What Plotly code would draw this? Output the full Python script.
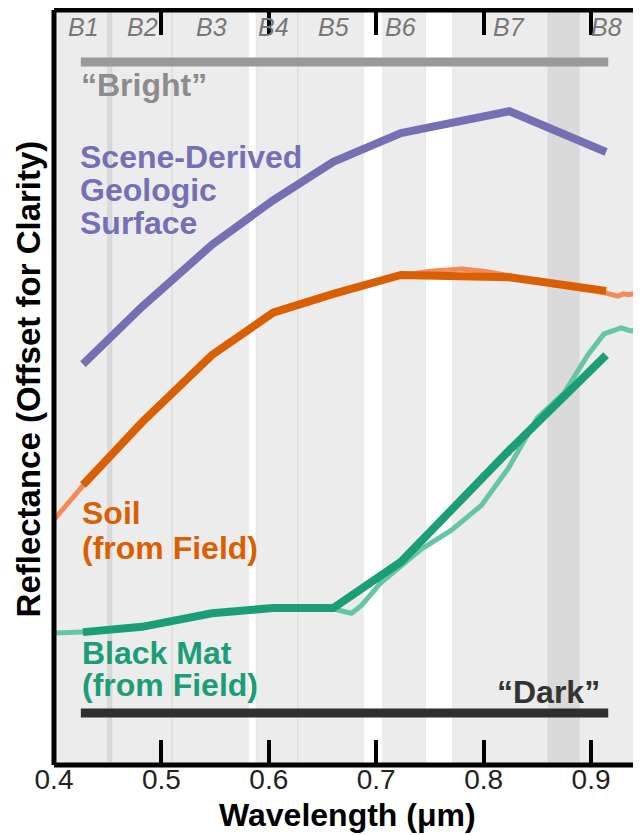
import plotly.graph_objects as go

# ---------------- data ----------------
band_names = ["B1", "B2", "B3", "B4", "B5", "B6", "B7", "B8"]
band_centers = [0.427, 0.482, 0.547, 0.604, 0.660, 0.723, 0.824, 0.914]
band_start = [0.400, 0.450, 0.510, 0.588, 0.627, 0.706, 0.771, 0.860]
band_end = [0.454, 0.510, 0.581, 0.627, 0.688, 0.746, 0.889, 1.040]

scene_refl = [0.531, 0.607, 0.689, 0.748, 0.799, 0.837, 0.866, 0.812]
soil_refl = [0.371, 0.454, 0.543, 0.599, 0.624, 0.649, 0.646, 0.628]
mat_refl = [0.176, 0.183, 0.201, 0.208, 0.208, 0.269, 0.417, 0.543]

soil_field_wl = [0.400, 0.427, 0.482, 0.547, 0.604, 0.660, 0.700, 0.723, 0.750,
                 0.780, 0.800, 0.824, 0.860, 0.890, 0.914, 0.925, 0.930, 0.935,
                 0.940, 0.9465]
soil_field_refl = [0.325, 0.370, 0.456, 0.544, 0.601, 0.625, 0.640, 0.648, 0.654,
                   0.657, 0.654, 0.648, 0.637, 0.631, 0.625, 0.621, 0.624, 0.623,
                   0.625, 0.626]

mat_field_wl = [0.400, 0.427, 0.482, 0.547, 0.604, 0.660, 0.668, 0.677, 0.686,
                0.704, 0.742, 0.770, 0.798, 0.823, 0.850, 0.875, 0.897, 0.912,
                0.928, 0.937, 0.9465]
mat_field_refl = [0.175, 0.176, 0.183, 0.201, 0.208, 0.207, 0.204, 0.201, 0.211,
                  0.241, 0.286, 0.311, 0.344, 0.393, 0.460, 0.493, 0.543, 0.571,
                  0.579, 0.575, 0.577]

bar_span = [0.425, 0.916]
bright_level = 0.931
dark_level = 0.069

x_ticks = [0.4, 0.5, 0.6, 0.7, 0.8, 0.9]
x_tick_labels = ["0.4", "0.5", "0.6", "0.7", "0.8", "0.9"]

# ---------------- styles ----------------
PURPLE = "#7570b3"
ORANGE = "#d95f02"
GREEN = "#1b9e77"
ORANGE_LIGHT = "#f38a58"
GREEN_LIGHT = "#66c6a4"
FONT = "Liberation Sans, Arial, Helvetica, sans-serif"

fig = go.Figure()

# spectral band shading
for x0, x1 in zip(band_start, band_end):
    fig.add_shape(type="rect", xref="x", yref="paper", x0=x0, x1=x1, y0=0, y1=1,
                  fillcolor="rgba(0,0,0,0.075)",
                  line=dict(color="rgba(0,0,0,0.05)", width=1), layer="below")

# field spectra (light)
fig.add_trace(go.Scatter(x=soil_field_wl, y=soil_field_refl, mode="lines",
                         line=dict(color=ORANGE_LIGHT, width=5), hoverinfo="skip"))
fig.add_trace(go.Scatter(x=mat_field_wl, y=mat_field_refl, mode="lines",
                         line=dict(color=GREEN_LIGHT, width=5), hoverinfo="skip"))

# resampled spectra (bold)
fig.add_trace(go.Scatter(x=band_centers, y=soil_refl, mode="lines",
                         line=dict(color=ORANGE, width=8), hoverinfo="skip"))
fig.add_trace(go.Scatter(x=band_centers, y=mat_refl, mode="lines",
                         line=dict(color=GREEN, width=8), hoverinfo="skip"))
fig.add_trace(go.Scatter(x=band_centers, y=scene_refl, mode="lines",
                         line=dict(color=PURPLE, width=8), hoverinfo="skip"))

# bright / dark bars
fig.add_trace(go.Scatter(x=bar_span, y=[bright_level] * 2, mode="lines",
                         line=dict(color="#999999", width=9), hoverinfo="skip"))
fig.add_trace(go.Scatter(x=bar_span, y=[dark_level] * 2, mode="lines",
                         line=dict(color="#2f2f2f", width=9), hoverinfo="skip"))

# frame lines
for (x0, y0, x1, y1) in [(0, 0, 0, 1), (0, 0, 1.02, 0), (0, 1, 1.02, 1)]:
    fig.add_shape(type="line", xref="paper", yref="paper", x0=x0, y0=y0, x1=x1, y1=y1,
                  line=dict(color="black", width=5), layer="above")

# band labels
for name, c in zip(band_names, band_centers):
    fig.add_annotation(x=c, y=0.977, xref="x", yref="y", text="<i>" + name + "</i>",
                       showarrow=False, xanchor="center", yanchor="middle",
                       font=dict(family=FONT, size=25, color="#777777"))

def label(text, x, y, color, size=32, xanchor="left"):
    fig.add_annotation(x=x, y=y, xref="x", yref="y", text="<b>" + text + "</b>",
                       showarrow=False, xanchor=xanchor, yanchor="middle",
                       font=dict(family=FONT, size=size, color=color))

label("\u201cBright\u201d", 0.4233, 0.901, "#8c8c8c")
label("\u201cDark\u201d", 0.9105, 0.097, "#333333", xanchor="right")
label("Scene-Derived", 0.4224, 0.805, PURPLE)
label("Geologic", 0.4224, 0.762, PURPLE)
label("Surface", 0.4224, 0.718, PURPLE)
label("Soil", 0.4240, 0.334, ORANGE)
label("(from Field)", 0.4240, 0.287, ORANGE)
label("Black Mat", 0.4240, 0.148, GREEN)
label("(from Field)", 0.4240, 0.106, GREEN)

# axis titles
fig.add_annotation(x=0.5, y=-0.0662, xref="paper", yref="paper",
                   text="<b>Wavelength (\u03bcm)</b>", showarrow=False,
                   xanchor="center", yanchor="middle",
                   font=dict(family=FONT, size=32, color="black"))
fig.add_annotation(x=-0.0443, y=0.512, xref="paper", yref="paper",
                   text="<b>Reflectance (Offset for Clarity)</b>", showarrow=False,
                   textangle=-90, xanchor="center", yanchor="middle",
                   font=dict(family=FONT, size=33, color="black"))

# page body has an 8px margin: figure is sized/positioned to compensate
fig.update_layout(
    width=633, height=827,
    margin=dict(l=46, r=0, t=2, b=70),
    paper_bgcolor="white", plot_bgcolor="white",
    showlegend=False,
    xaxis=dict(range=[0.4, 0.9465], tickvals=x_ticks, ticktext=x_tick_labels,
               ticks="inside", ticklen=25, tickwidth=4, tickcolor="black",
               mirror="ticks", showline=False, showgrid=False, zeroline=False,
               ticklabelstandoff=-5,
               tickfont=dict(family=FONT, size=28, color="#222222")),
    yaxis=dict(range=[0, 1], showticklabels=False, ticks="", showgrid=False,
               zeroline=False, showline=False),
)

fig.write_html("out.html")
